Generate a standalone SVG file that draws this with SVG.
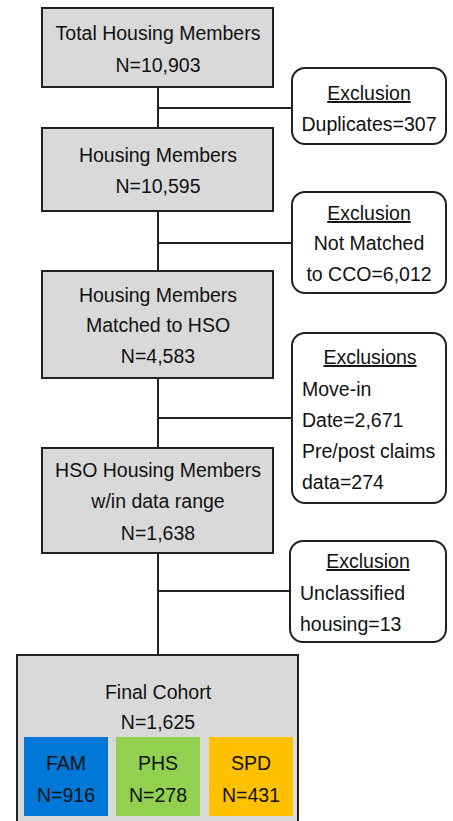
<svg xmlns="http://www.w3.org/2000/svg" width="453" height="821" viewBox="0 0 453 821">
<style>
text{font-family:"Liberation Sans",Arial,sans-serif;font-size:19.5px;fill:#111}
.c{text-anchor:middle}
.box{fill:#d9d9d9;stroke:#222;stroke-width:2}
.ex{fill:#fff;stroke:#222;stroke-width:2}
.u{text-decoration:underline}
.ln{stroke:#222;stroke-width:2;fill:none}
</style>
<rect width="453" height="821" fill="#fff"/>
<g id="connectors">
<line class="ln" x1="158" y1="87" x2="158" y2="128"/>
<line class="ln" x1="158" y1="108" x2="292" y2="108"/>
<line class="ln" x1="158" y1="211" x2="158" y2="271"/>
<line class="ln" x1="158" y1="243" x2="292" y2="243"/>
<line class="ln" x1="158" y1="378" x2="158" y2="448"/>
<line class="ln" x1="158" y1="418" x2="292" y2="418"/>
<line class="ln" x1="158" y1="553" x2="158" y2="655"/>
<line class="ln" x1="158" y1="591" x2="290" y2="591"/>
</g>
<g id="n1"><rect class="box" x="42" y="8" width="231" height="79"/>
<text class="c" x="158" y="40">Total Housing Members</text><text class="c" x="158" y="72">N=10,903</text></g>
<g id="n2"><rect class="box" x="42" y="128" width="231" height="83"/>
<text class="c" x="158" y="162">Housing Members</text><text class="c" x="158" y="193">N=10,595</text></g>
<g id="n3"><rect class="box" x="42" y="271" width="231" height="107"/>
<text class="c" x="158" y="302">Housing Members</text><text class="c" x="158" y="332">Matched to HSO</text><text class="c" x="158" y="363">N=4,583</text></g>
<g id="n4"><rect class="box" x="42" y="448" width="231" height="105"/>
<text class="c" x="158" y="477">HSO Housing Members</text><text class="c" x="158" y="508">w/in data range</text><text class="c" x="158" y="540">N=1,638</text></g>
<g id="n5"><rect class="box" x="17" y="655" width="281" height="180"/>
<text class="c" x="158" y="699">Final Cohort</text><text class="c" x="158" y="729">N=1,625</text></g>
<g id="fam"><rect x="24" y="737" width="84" height="79" fill="#0078d7"/>
<text class="c" x="66" y="770">FAM</text><text class="c" x="66" y="802">N=916</text></g>
<g id="phs"><rect x="116" y="737" width="84" height="79" fill="#92d050"/>
<text class="c" x="158" y="770">PHS</text><text class="c" x="158" y="802">N=278</text></g>
<g id="spd"><rect x="209" y="737" width="84" height="79" fill="#ffc000"/>
<text class="c" x="251" y="770">SPD</text><text class="c" x="251" y="802">N=431</text></g>
<g id="e1"><rect class="ex" x="292" y="68" width="154" height="76" rx="13"/>
<text class="c u" x="369" y="100">Exclusion</text><text class="c" x="369" y="131">Duplicates=307</text></g>
<g id="e2"><rect class="ex" x="292" y="192" width="154" height="101" rx="13"/>
<text class="c u" x="369" y="220">Exclusion</text><text class="c" x="369" y="250">Not Matched</text><text class="c" x="369" y="281">to CCO=6,012</text></g>
<g id="e3"><rect class="ex" x="292" y="333" width="154" height="170" rx="13"/>
<text class="c u" x="370" y="364">Exclusions</text><text x="302" y="396">Move-in</text><text x="302" y="427">Date=2,671</text><text x="302" y="458">Pre/post claims</text><text x="302" y="489">data=274</text></g>
<g id="e4"><rect class="ex" x="290" y="541" width="156" height="101" rx="13"/>
<text class="c u" x="368" y="568">Exclusion</text><text x="300" y="600">Unclassified</text><text x="300" y="631">housing=13</text></g>
</svg>
